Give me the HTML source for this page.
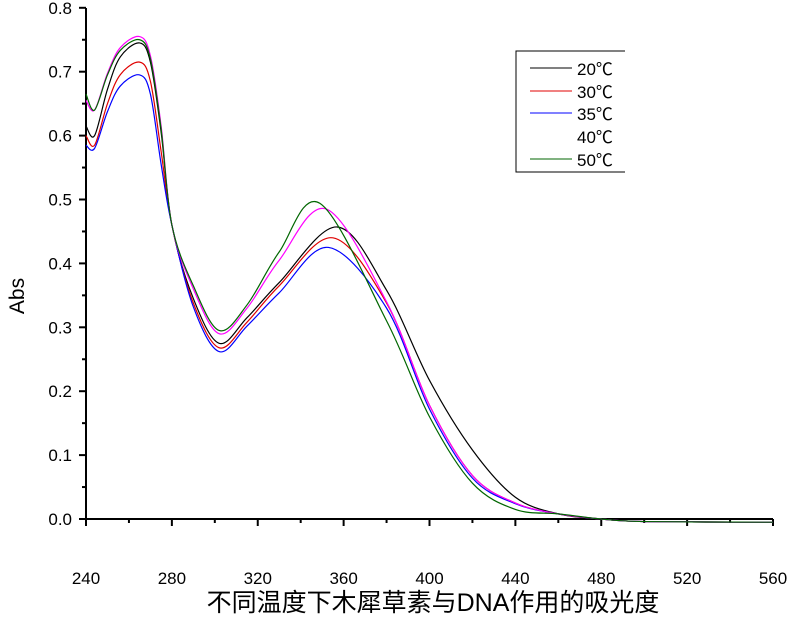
<!DOCTYPE html>
<html><head><meta charset="utf-8"><style>
body{margin:0;background:#fff}
svg text{font-family:"Liberation Sans","Noto Sans CJK SC",sans-serif;fill:#000}
</style></head><body>
<svg id="s" width="800" height="617" xmlns="http://www.w3.org/2000/svg">
<rect width="800" height="617" fill="#fff"/>
<g id="ax" stroke="#000" stroke-width="2" fill="none"></g>
<g id="lab" font-size="17"></g>
<g id="cur" fill="none" stroke-width="1.2"></g>
<text x="24" y="296" font-size="21" transform="rotate(-90 24 296)" text-anchor="middle">Abs</text>
<text x="433" y="611" font-size="25" text-anchor="middle">不同温度下木犀草素与DNA作用的吸光度</text>
<g font-size="17">
<path d="M625 51 H516 V172 H625" stroke="#000" stroke-width="1" fill="none"/>
<line x1="530" y1="68" x2="572" y2="68" stroke="#000"/>
<line x1="530" y1="91" x2="572" y2="91" stroke="#e00000"/>
<line x1="530" y1="113" x2="572" y2="113" stroke="#0000ff"/>
<line x1="530" y1="159" x2="572" y2="159" stroke="#006600"/>
<text x="577" y="75">20℃</text><text x="577" y="98">30℃</text><text x="577" y="120">35℃</text><text x="577" y="143">40℃</text><text x="577" y="166">50℃</text>
</g>
</svg>
<script>
const X=w=>86+(w-240)*687/320, Y=v=>519-v*639;
const ax=document.getElementById('ax'),lab=document.getElementById('lab'),cur=document.getElementById('cur');
let h='<path d="M86 8 V519 H773"/>';
let t='';
for(let i=0;i<=16;i++){const v=i*0.05,y=Y(v);h+=`<line x1="${i%2?82:79}" y1="${y}" x2="86" y2="${y}"/>`;if(i%2==0)t+=`<text x="72" y="${y+6}" text-anchor="end">${v.toFixed(1)}</text>`;}
for(let w=240;w<=560;w+=20){const x=X(w);h+=`<line x1="${x}" y1="519" x2="${x}" y2="${w%40?523:526}"/>`;if(w%40==0)t+=`<text x="${x}" y="584" text-anchor="middle">${w}</text>`;}
ax.innerHTML=h;lab.innerHTML=t;
function mk(s0,m0,p1,m1,v330,p2,p2w,v380,v400,v420,v440){
return [[240,s0],[244,m0],[250,m0+(p1-m0)*0.5],[256,m0+(p1-m0)*0.85],[265,p1],[270,p1-0.03],[275,p1-0.14],[280,0.46],[290,m1+0.07],[302,m1],[315,m1+0.04],[330,v330],[p2w,p2],[380,v380],[400,v400],[420,v420],[440,v440],[460,0.008],[480,0.0],[500,-0.004],[560,-0.005]];}
const C=[
['#000',mk(.615,.6,.745,.275,.37,.457,357,.358,.217,.108,.034)],
['#e00000',mk(.6,.585,.715,.268,.365,.44,355,.338,.178,.068,.025)],
['#0000ff',mk(.585,.58,.695,.262,.354,.425,353,.33,.172,.064,.024)],
['#ff00ff',mk(.655,.64,.755,.29,.405,.485,352,.34,.178,.068,.025)],
['#006600',mk(.665,.64,.75,.295,.418,.494,349,.31,.16,.056,.015)]];
let o='';
for(const [c,p] of C){const q=p.map(a=>[X(a[0]),Y(a[1])]);let d=`M${q[0][0]} ${q[0][1]}`;
for(let i=0;i<q.length-1;i++){const a=q[Math.max(i-1,0)],b=q[i],e=q[i+1],f=q[Math.min(i+2,q.length-1)];
d+=` C${b[0]+(e[0]-a[0])/6} ${b[1]+(e[1]-a[1])/6} ${e[0]-(f[0]-b[0])/6} ${e[1]-(f[1]-b[1])/6} ${e[0]} ${e[1]}`;}
o+=`<path d="${d}" stroke="${c}"/>`;}
cur.innerHTML=o;
</script>
</body></html>
